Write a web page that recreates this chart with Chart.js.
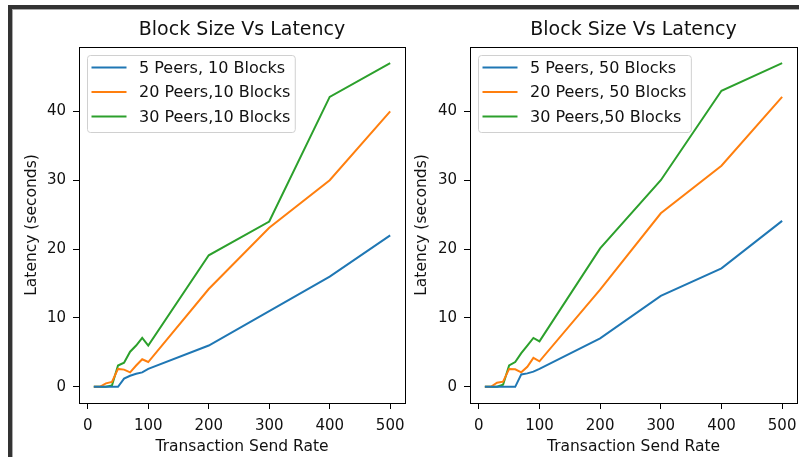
<!DOCTYPE html>
<html>
<head>
<meta charset="utf-8">
<script src="https://cdn.jsdelivr.net/npm/chart.js@4.4.1/dist/chart.umd.min.js"></script>
<style>
  body { margin: 0; background: #fff; width: 799px; height: 457px; overflow: hidden; position: relative; }
  #frame { position: absolute; left: 8px; top: 5px; width: 900px; height: 600px; border-top: 4px solid #333; border-left: 4px solid #333; }
  #frame div { width: 100%; height: 100%; border-top: 1px solid #aaa; border-left: 1px solid #aaa; }
  canvas { position: absolute; left: 0; top: 0; }
</style>
</head>
<body>
<div id="frame"><div></div></div>
<canvas id="leftChart" width="799" height="457"></canvas>
<canvas id="rightChart" width="799" height="457"></canvas>
<script>
// data
const sendRate = [10, 20, 30, 40, 50, 60, 70, 80, 90, 100, 200, 300, 400, 500];
const xTicks = [0, 100, 200, 300, 400, 500];
const yTicks = [0, 10, 20, 30, 40];

const peers5_10 = [0, 0, 0, 0, 0, 1.2, 1.6, 1.9, 2.1, 2.6, 6, 11, 16, 22];
const peers20_10 = [0, 0, 0.5, 0.7, 2.6, 2.5, 2.1, 3.1, 4, 3.6, 14.2, 23.1, 30, 40];
const peers30_10 = [0, 0, 0, 0.2, 3.1, 3.5, 5.1, 6, 7.1, 6, 19.1, 24, 42.1, 47];

const peers5_50 = [0, 0, 0, 0, 0, 0, 1.8, 1.95, 2.2, 2.6, 7.05, 13.2, 17.2, 24.1];
const peers20_50 = [0, 0, 0.6, 0.75, 2.6, 2.55, 2.1, 2.9, 4.2, 3.7, 14.1, 25.2, 32.1, 42.1];
const peers30_50 = [0, 0, 0, 0.3, 3.1, 3.6, 4.9, 6, 7.1, 6.6, 20.1, 30, 43, 47];

const leftLabels = ['5 Peers, 10 Blocks', '20 Peers,10 Blocks', '30 Peers,10 Blocks'];
const rightLabels = ['5 Peers, 50 Blocks', '20 Peers, 50 Blocks', '30 Peers,50 Blocks'];
const colors = ['#1f77b4', '#ff7f0e', '#2ca02c'];

const FONT = 'DejaVu Sans';

// axes frame + legend box in the upper left corner
const boxLegend = {
  id: 'boxLegend',
  afterDatasetsDraw(chart) {
    const ctx = chart.ctx, a = chart.chartArea;
    ctx.save();
    ctx.strokeStyle = '#000';
    ctx.lineWidth = 1;
    ctx.strokeRect(a.left + 0.5, a.top + 0.5, a.right - a.left, a.bottom - a.top);

    ctx.font = '16px "' + FONT + '"';
    const ds = chart.data.datasets;
    const textW = Math.max(...ds.map(d => ctx.measureText(d.label).width));
    const bx = a.left + 8.5, by = a.top + 8.5;
    const bw = 4 + 35 + 12.5 + textW + 5, bh = 77;
    ctx.beginPath();
    ctx.roundRect(bx, by, bw, bh, 3);
    ctx.fillStyle = 'rgba(255,255,255,0.8)';
    ctx.fill();
    ctx.strokeStyle = '#d0d0d0';
    ctx.stroke();

    ds.forEach((d, i) => {
      const cy = by + 12 + i * 24.5;
      ctx.beginPath();
      ctx.moveTo(bx + 4, cy);
      ctx.lineTo(bx + 39, cy);
      ctx.strokeStyle = d.borderColor;
      ctx.lineWidth = 2;
      ctx.stroke();
      ctx.fillStyle = '#111';
      ctx.textBaseline = 'middle';
      ctx.textAlign = 'left';
      ctx.fillText(d.label, bx + 51.5, cy + 1);
    });
    ctx.restore();
  }
};

function makeChart(id, labels, series, padLeft, padRight, yWidth, yTitlePad) {
  new Chart(document.getElementById(id), {
    type: 'line',
    data: {
      datasets: series.map((vals, i) => ({
        label: labels[i],
        data: sendRate.map((x, j) => ({ x: x, y: vals[j] })),
        borderColor: colors[i],
        backgroundColor: colors[i],
        borderWidth: 2,
        pointRadius: 0,
        tension: 0
      }))
    },
    options: {
      responsive: false,
      animation: false,
      devicePixelRatio: 1,
      layout: { padding: { left: padLeft, right: padRight, top: 0, bottom: 0 } },
      plugins: {
        legend: { display: false },
        tooltip: { enabled: false },
        title: {
          display: true,
          text: 'Block Size Vs Latency',
          fullSize: false,
          color: '#111',
          font: { family: FONT, size: 19, weight: 'normal' },
          padding: { top: 19, bottom: 5.2 }
        }
      },
      scales: {
        x: {
          type: 'linear',
          min: -14.5,
          max: 524.5,
          afterBuildTicks: s => { s.ticks = xTicks.map(v => ({ value: v })); },
          afterFit: s => { s.height = 54; s.paddingLeft = 0; s.paddingRight = 0; },
          grid: { display: true, drawOnChartArea: false, drawTicks: true, tickLength: 6, tickColor: '#000' },
          border: { display: false },
          ticks: { color: '#111', padding: 8, maxRotation: 0, font: { family: FONT, size: 15 } },
          title: { display: true, text: 'Transaction Send Rate', color: '#111', padding: 1, font: { family: FONT, size: 15.5 } }
        },
        y: {
          type: 'linear',
          min: -2.35,
          max: 49.35,
          afterBuildTicks: s => { s.ticks = yTicks.map(v => ({ value: v })); },
          afterFit: s => { s.width = yWidth; s.paddingTop = 0; s.paddingBottom = 0; },
          grid: { display: true, drawOnChartArea: false, drawTicks: true, tickLength: 6, tickColor: '#000' },
          border: { display: false },
          ticks: { color: '#111', padding: 7, font: { family: FONT, size: 15 } },
          title: { display: true, text: 'Latency (seconds)', color: '#111', padding: yTitlePad, font: { family: FONT, size: 15.5 } }
        }
      }
    },
    plugins: [boxLegend]
  });
}

makeChart('leftChart', leftLabels, [peers5_10, peers20_10, peers30_10], 0, 394, 79, 22.2);
makeChart('rightChart', rightLabels, [peers5_50, peers20_50, peers30_50], 410, 2, 60, 2.2);
</script>
</body>
</html>
